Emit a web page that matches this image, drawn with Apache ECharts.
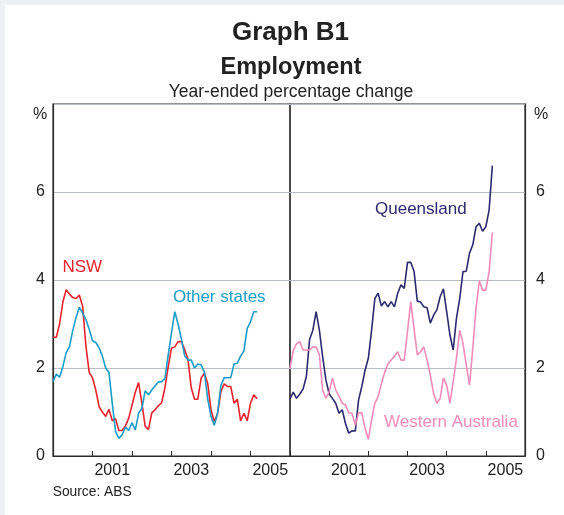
<!DOCTYPE html>
<html>
<head>
<meta charset="utf-8">
<script src="https://cdn.jsdelivr.net/npm/echarts@6/dist/echarts.min.js"></script>
<style>
  html, body { margin: 0; padding: 0; background: #eef0f3; }
  #chart { position: absolute; left: 5px; top: 5px; width: 559px; height: 510px; background: #fff; }
</style>
</head>
<body>
<div id="chart"></div>
<script>
// monthly, Jan 2000 .. Mar 2005 (year-ended % change)
const nsw = [2.7, 2.7, 3.0, 3.5, 3.78, 3.68, 3.6, 3.58, 3.66, 3.4, 2.5, 1.9,
  1.78, 1.5, 1.12, 1.0, 0.9, 1.06, 0.8, 0.85, 0.58, 0.58, 0.68, 0.86,
  1.15, 1.45, 1.67, 1.2, 0.68, 0.6, 0.98, 1.05, 1.14, 1.21, 1.55, 2.03,
  2.45, 2.48, 2.6, 2.6, 2.42, 2.2, 1.55, 1.29, 1.29, 1.77, 1.88, 1.65,
  1.05, 0.78, 0.97, 1.46, 1.64, 1.58, 1.58, 1.2, 1.29, 0.8, 0.97, 0.8,
  1.2, 1.39, 1.3]
const otherStates = [1.69, 1.86, 1.79, 2.03, 2.35, 2.48, 2.85, 3.15, 3.38, 3.25, 3.1, 2.88,
  2.62, 2.58, 2.46, 2.27, 2.0, 1.9, 1.2, 0.56, 0.4, 0.48, 0.66, 0.58,
  0.76, 0.59, 0.97, 1.08, 1.48, 1.39, 1.5, 1.59, 1.68, 1.69, 1.76, 2.3,
  2.8, 3.28, 3.0, 2.66, 2.28, 2.18, 2.18, 2.0, 2.09, 2.07, 1.9, 1.3,
  0.9, 0.7, 0.97, 1.6, 1.78, 1.78, 1.78, 2.09, 2.11, 2.27, 2.39, 2.9,
  3.05, 3.28, 3.28]
const queensland = [1.3, 1.45, 1.31, 1.41, 1.52, 1.8, 2.65, 2.86, 3.28, 2.86, 2.26, 1.73,
  1.41, 1.31, 1.2, 0.97, 1.05, 0.74, 0.52, 0.57, 0.57, 1.27, 1.58, 1.95,
  2.22, 2.86, 3.58, 3.7, 3.41, 3.51, 3.39, 3.51, 3.39, 3.7, 3.89, 3.81,
  4.4, 4.4, 4.2, 3.52, 3.5, 3.39, 3.37, 3.02, 3.2, 3.32, 3.62, 3.8,
  3.28, 2.75, 2.41, 3.13, 3.58, 4.19, 4.2, 4.61, 4.8, 5.21, 5.29, 5.11,
  5.21, 5.59, 6.6]
const westernAustralia = [1.99, 2.4, 2.55, 2.6, 2.41, 2.41, 2.41, 2.48, 2.48, 2.3, 1.5, 1.31,
  1.46, 1.77, 1.5, 1.36, 1.2, 1.16, 0.98, 0.97, 0.7, 0.98, 0.98, 0.63,
  0.38, 0.82, 1.2, 1.35, 1.65, 1.9, 2.09, 2.18, 2.27, 2.37, 2.18, 2.18,
  2.83, 3.51, 2.9, 2.3, 2.37, 2.48, 2.18, 1.84, 1.42, 1.2, 1.31, 1.77,
  1.61, 1.2, 1.69, 2.22, 2.86, 2.56, 2.07, 1.61, 2.45, 3.36, 3.98, 3.77,
  3.77, 4.19, 5.08]

const yearTicks = [2000, 2001, 2002, 2003, 2004, 2005, 2006]
const yearLabels = [2001, 2003, 2005]
const yTicks = [0, 2, 4, 6, 8]

// decimal-year position of each month
const months = nsw.map((_, i) => 2000 + i / 12)
const pairs = (arr) => arr.map((v, i) => [months[i], v])

const FONT = '"Liberation Sans", Arial, sans-serif'
const AXIS = '#2b2b2b'
const GRID = '#b9bec6'

function xAxisOpt(gridIndex) {
  return {
    type: 'value',
    gridIndex,
    min: yearTicks[0],
    max: yearTicks[yearTicks.length - 1],
    axisLine: { show: true, lineStyle: { color: AXIS, width: 1.2 } },
    axisTick: { show: true, inside: true, length: 5, customValues: yearTicks, lineStyle: { color: AXIS } },
    axisLabel: {
      customValues: yearLabels.map(y => y + 0.5),
      formatter: (v) => String(Math.floor(v)),
      color: '#222', fontSize: 16, fontFamily: FONT, margin: 7
    },
    splitLine: { show: false }
  }
}

function yAxisOpt(gridIndex, position) {
  return {
    type: 'value',
    gridIndex,
    position,
    min: yTicks[0],
    max: yTicks[yTicks.length - 1],
    interval: 2,
    axisLine: { show: true, lineStyle: { color: AXIS, width: 1.2 } },
    axisTick: { show: false },
    axisLabel: {
      formatter: (v) => v === 8 ? '' : String(v),
      color: '#222', fontSize: 16, fontFamily: FONT, margin: position === 'left' ? 8 : 11
    },
    splitLine: { show: true, lineStyle: { color: GRID, width: 1 } }
  }
}

function line(name, data, color, axisIndex) {
  return {
    name, type: 'line', data: pairs(data),
    xAxisIndex: axisIndex, yAxisIndex: axisIndex,
    showSymbol: false, smooth: false,
    lineStyle: { color, width: 1.6 },
    z: 3
  }
}

function text(x, y, str, opts) {
  return {
    type: 'text', x, y,
    style: Object.assign({ text: str, fontFamily: FONT, fontSize: 17, fill: '#222',
      textAlign: 'left', textVerticalAlign: 'middle' }, opts || {})
  }
}

const chart = echarts.init(document.getElementById('chart'))
chart.setOption({
  animation: false,
  grid: [
    { left: 48, top: 99, width: 237, height: 352, show: true, borderColor: AXIS, borderWidth: 1.2 },
    { left: 285, top: 99, width: 235, height: 352, show: true, borderColor: AXIS, borderWidth: 1.2 }
  ],
  xAxis: [xAxisOpt(0), xAxisOpt(1)],
  yAxis: [yAxisOpt(0, 'left'), yAxisOpt(1, 'right')],
  series: [
    line('NSW', nsw, '#e8232d', 0),
    line('Other states', otherStates, '#1a9dc8', 0),
    line('Queensland', queensland, '#2c2a6e', 1),
    line('Western Australia', westernAustralia, '#f28bb9', 1)
  ],
  graphic: [
    text(285.5, 28, 'Graph B1', { fontSize: 26, fontWeight: 'bold', textAlign: 'center' }),
    text(286, 63, 'Employment', { fontSize: 23.5, fontWeight: 'bold', textAlign: 'center' }),
    text(286, 87.5, 'Year-ended percentage change', { fontSize: 17.5, textAlign: 'center' }),
    text(35, 110, '%', { fontSize: 16, textAlign: 'center' }),
    text(536, 110, '%', { fontSize: 16, textAlign: 'center' }),
    text(57.5, 262, 'NSW', { fill: '#e8232d' }),
    text(168, 292, 'Other states', { fill: '#1a9dc8' }),
    text(370, 204.5, 'Queensland', { fill: '#2c2a6e' }),
    text(379, 417, 'Western Australia', { fill: '#f28bb9' }),
    text(47.7, 487, 'Source: ABS', { fontSize: 13.8 })
  ]
})
</script>
</body>
</html>
